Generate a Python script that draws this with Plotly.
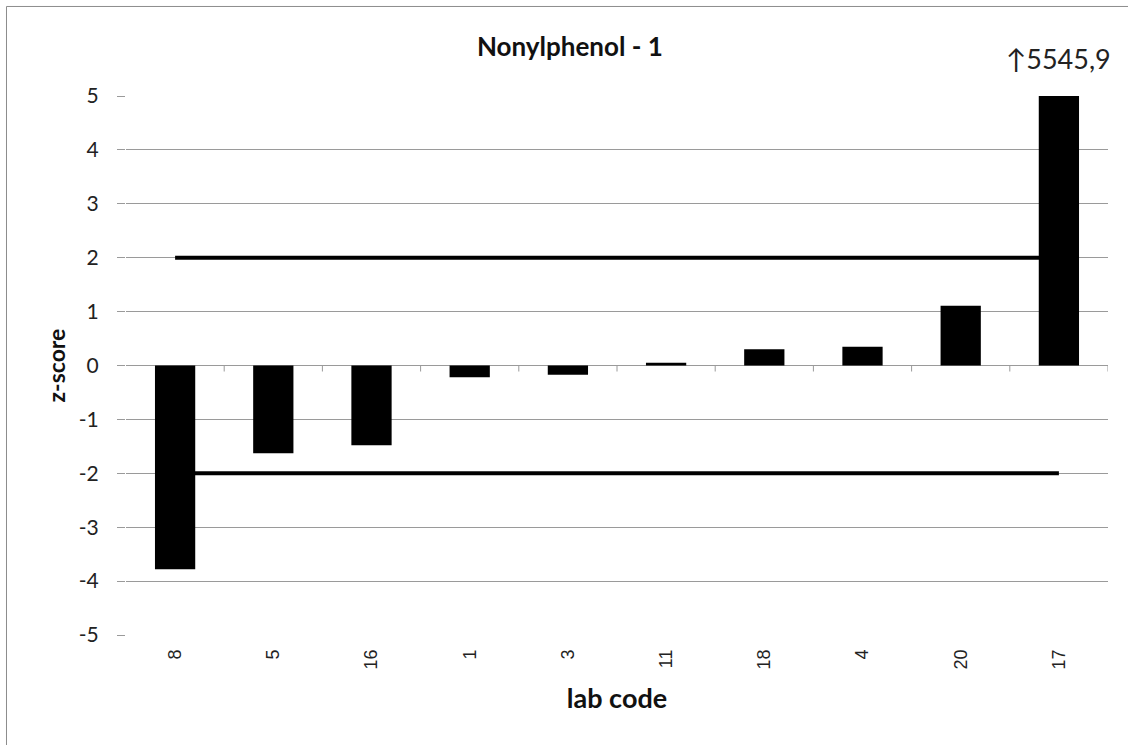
import plotly.graph_objects as go

lab_codes = ["8", "5", "16", "1", "3", "11", "18", "4", "20", "17"]
z_scores = [-3.78, -1.63, -1.48, -0.22, -0.17, 0.05, 0.30, 0.35, 1.11, 5545.9]
upper_limit = [2, 2]
lower_limit = [-2, -2]
limit_x = [lab_codes[0], lab_codes[-1]]
y_ticks = [-5, -4, -3, -2, -1, 0, 1, 2, 3, 4, 5]
y_tick_text = ["-5", "-4", "-3", "-2", "-1", "0", "1", "2", "3", "4", "5"]
off_scale_label = "↑5545,9"

CAL = "Lato, 'Open Sans', sans-serif"
GRID = "#9a9a9a"

fig = go.Figure()
fig.add_trace(go.Bar(x=lab_codes, y=z_scores, marker=dict(color="black", line=dict(width=0)),
                     zorder=1, showlegend=False))
fig.add_trace(go.Scatter(x=limit_x, y=upper_limit, mode="lines",
                         line=dict(color="black", width=4), zorder=0,
                         showlegend=False, hoverinfo="skip"))
fig.add_trace(go.Scatter(x=limit_x, y=lower_limit, mode="lines",
                         line=dict(color="black", width=4), zorder=0,
                         showlegend=False, hoverinfo="skip"))

# boundary tick marks on the zero line
shapes = []
for i in range(len(lab_codes)):
    shapes.append(dict(type="line", xref="x", yref="y", x0=i + 0.5, x1=i + 0.5,
                       ysizemode="pixel", yanchor=0, y0=0, y1=-6,
                       line=dict(color=GRID, width=1)))
# outer chart border
shapes.append(dict(type="rect", xref="paper", yref="paper",
                   x0=-0.1217, x1=1.1, y0=-0.4, y1=1.1661,
                   line=dict(color="#8c8c8c", width=1), layer="below"))

fig.update_layout(
    width=1128, height=745,
    margin=dict(l=126, r=20, t=96, b=110),
    paper_bgcolor="white", plot_bgcolor="white",
    bargap=0.59,
    title=dict(text="<b>Nonylphenol - 1</b>", font=dict(family=CAL, size=26, color="#111"),
               xref="paper", x=0.452, xanchor="center",
               yref="container", y=1 - 47 / 745, yanchor="middle"),
    xaxis=dict(type="category", categoryorder="array", categoryarray=lab_codes,
               range=[-0.5, len(lab_codes) - 0.5],
               tickangle=-90, showline=False, ticks="",
               showgrid=False, zeroline=False,
               tickfont=dict(family="'Liberation Sans', Arial, sans-serif", size=18, color="#222"),
               ticklabelstandoff=10,
               title=dict(text="<b>lab code</b>", font=dict(family=CAL, size=27, color="#111"),
                          standoff=20)),
    yaxis=dict(range=[-5, 5], tickvals=y_ticks, ticktext=y_tick_text,
               showgrid=True, gridcolor=GRID, gridwidth=1,
               zeroline=True, zerolinecolor=GRID, zerolinewidth=1,
               showline=True, linecolor=GRID, linewidth=1,
               ticks="outside", ticklen=8, tickcolor=GRID,
               ticklabelstandoff=14,
               tickfont=dict(family=CAL, size=21, color="#222"),
               title=dict(text="<b>z-score</b>", font=dict(family=CAL, size=23, color="#111"),
                          standoff=6)),
    shapes=shapes,
    annotations=[dict(text=off_scale_label, xref="x", x=len(lab_codes) - 1, xanchor="center",
                      yref="paper", y=(635 - 58) / 539, yanchor="middle", showarrow=False,
                      font=dict(family=CAL, size=27, color="#222"))],
)

fig.write_html("out.html", config={"displayModeBar": False},
               post_script="document.body.style.margin='0';")
